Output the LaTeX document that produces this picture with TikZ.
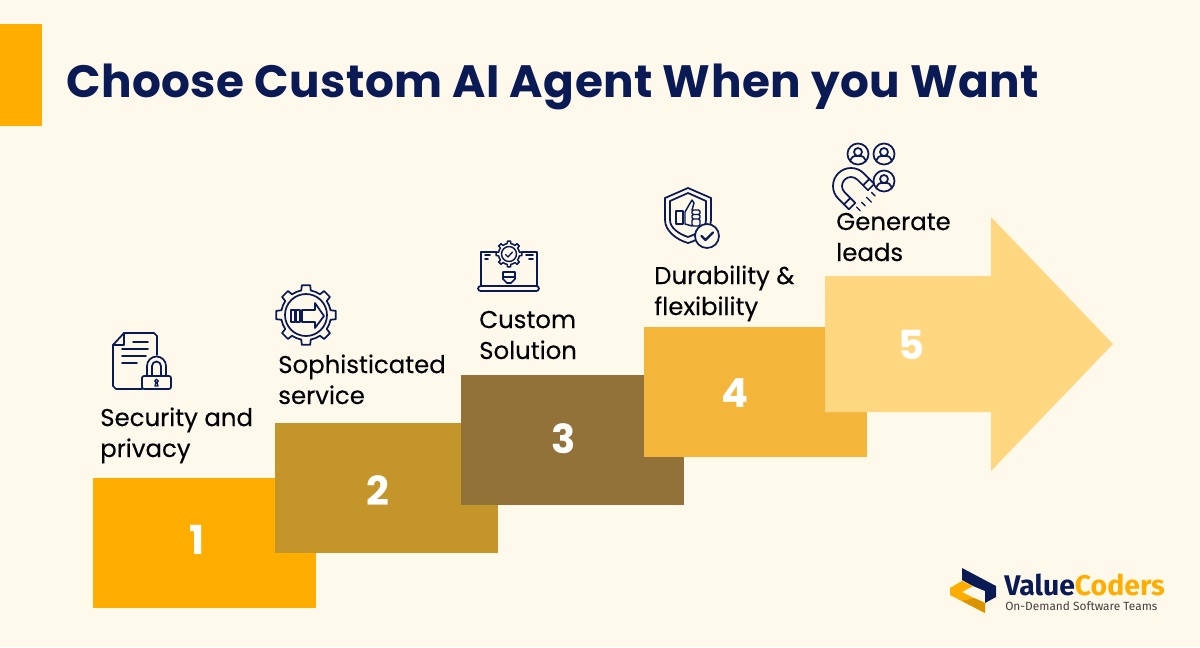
\documentclass[tikz,border=0pt]{standalone}
\usepackage{fontspec}
\setmainfont{Poppins}
\newfontfamily\logofont{Fira Sans}
\newfontfamily\labelfont[FakeBold=0.25]{Poppins}
\definecolor{pagebg}{HTML}{FFF9EC}
\definecolor{navy}{HTML}{0A1A55}
\definecolor{amber}{HTML}{FFAE00}
\definecolor{stepa}{HTML}{FFAE00}
\definecolor{stepb}{HTML}{C4952B}
\definecolor{stepc}{HTML}{927238}
\definecolor{stepd}{HTML}{F4B63A}
\definecolor{stepe}{HTML}{FFD780}
\tikzset{
    label/.style={anchor=base west, inner sep=0pt, align=left, text=black!90!navy, font=\labelfont\fontsize{18.3}{23.2}\selectfont},
    num/.style={text=white, inner sep=0pt, font=\bfseries\fontsize{30}{30}\selectfont},
    icon/.style={draw=navy, line width=1.3pt, line join=round, line cap=round},
}
\begin{document}
\begin{tikzpicture}[x=0.75pt, y=-0.75pt]
    \useasboundingbox (0,0) rectangle (1200,647);
    \fill[pagebg] (0,0) rectangle (1200,647);
    \fill[amber] (0,24) rectangle (42,126);
    \node[anchor=base west, inner sep=0pt, text=navy, font=\bfseries\fontsize{34}{34}\selectfont\addfontfeatures{LetterSpace=1}] (title) at (66,97) {Choose Custom AI Agent When you Want};
    % steps
    \foreach \x/\y/\c in {93/478/stepa, 275/423/stepb, 461/375/stepc, 644/327/stepd}{
        \fill[\c] (\x,\y) rectangle ++(223,130);
    }
    \fill[stepe] (825,276) -- (991,276) -- (991,217) -- (1113,344) -- (991,471) -- (991,412) -- (825,412) -- cycle;
    \node[num] (one) at (197.5,540) {1};
    \node[num] (two) at (378,491) {2};
    \node[num] (three) at (564,439) {3};
    \node[num] (four) at (735,393) {4};
    \node[num] (five) at (911,345) {5};
    \node[label] (security) at (100,457) {Security and\\privacy};
    \node[label] (service) at (278,404) {Sophisticated\\service};
    \node[label] (custom) at (479,359) {Custom\\Solution};
    \node[label] (durable) at (654,315) {Durability \&\\flexibility};
    \node[label] (leads) at (836,261) {Generate\\leads};
    % document and lock
    \draw[icon] (142,389) -- (116,389) -- (113,386) -- (113,345) -- (124,333) -- (154,333) -- (157,336) -- (157,355);
    \draw[icon] (113,345) -- (124,345) -- (124,333);
    \draw[icon] (133,342) -- (148,342) (122,349) -- (148,349) (122,356) -- (146,356) (122,363) -- (137,363);
    \draw[icon, rounded corners=1.5] (142,376) rectangle (171,389);
    \draw[icon] (147,376) -- (147,366) arc (180:360:9.5) -- (166,376);
    \draw[icon] (152,376) -- (152,366) arc (180:360:4.5) -- (161,376);
    \draw[icon, line width=1pt] (156.5,381) circle (1.8) (155,386) -- (158,386) -- (157,382) -- (156,382) -- cycle;
    % gear with arrow
    \foreach \a in {0,45,...,315}{
        \draw[icon] ([shift={(306,315)}]\a-22.5:25) -- ([shift={(306,315)}]\a-11:25) -- ([shift={(306,315)}]\a-8:30) -- ([shift={(306,315)}]\a+8:30) -- ([shift={(306,315)}]\a+11:25) -- ([shift={(306,315)}]\a+22.5:25);
    }
    \draw[icon] (306,315) circle (21);
    \draw[icon, line width=1pt] (291,310) rectangle (295,322) (296,310) rectangle (300,322);
    \draw[icon] (302,310) -- (315,310) -- (315,303) -- (324,316) -- (315,328) -- (315,322) -- (302,322) -- cycle;
    % laptop with gear
    \draw[icon] (481,286) -- (481,252) -- (537,252) -- (537,286);
    \draw[icon, rounded corners=2] (478,286) rectangle (539,291);
    \draw[icon] (485,255) -- (490,255) (485,259) -- (488,259) (526,255) -- (533,255) (529,259) -- (533,259);
    \fill[pagebg] (509,254) circle (12);
    \foreach \a in {0,45,...,315}{
        \draw[icon, line width=1.1pt] ([shift={(509,254)}]\a-22.5:10.5) -- ([shift={(509,254)}]\a-10:10.5) -- ([shift={(509,254)}]\a-7:13) -- ([shift={(509,254)}]\a+7:13) -- ([shift={(509,254)}]\a+10:10.5) -- ([shift={(509,254)}]\a+22.5:10.5);
    }
    \draw[icon, line width=1.1pt] (509,254) circle (7.5);
    \draw[icon, line width=1pt] (505.5,254.5) -- (508,257) -- (512.5,252);
    \draw[icon] (503,272) -- (515,272) -- (515,279) -- (511,283) -- (507,283) -- (503,279) -- cycle (503,277) -- (515,277);
    % shield with thumb
    \draw[icon] (688,188) -- (711,198) -- (711,220) .. controls (711,231) and (699,240) .. (688,243) .. controls (677,240) and (665,231) .. (665,220) -- (665,198) -- cycle;
    \draw[icon] (688,193) -- (706,201) -- (706,220) .. controls (706,228) and (697,234) .. (688,237) .. controls (679,234) and (670,228) .. (670,220) -- (670,201) -- cycle;
    \draw[icon, line width=1.1pt] (676,211) rectangle (683,224);
    \draw[icon, line width=1.1pt] (685,224) -- (685,212) -- (689,205) -- (692,200) -- (694,203) -- (692,210) (685,224) -- (692,226);
    \draw[icon, line width=1.1pt, rounded corners=1] (692,210) rectangle (700,214.5) (692,214.5) rectangle (700,219) (692,219) rectangle (700,226);
    \filldraw[icon, fill=pagebg] (707,236) circle (12);
    \draw[icon, line width=1.8pt] (701.5,236) -- (705.5,240) -- (713,232.5);
    % magnet and people
    \foreach \x/\y in {858/154, 884/154, 884/181}{
        \draw[icon] (\x,\y) circle (10.5);
        \draw[icon] (\x,\y-2) circle (4);
        \draw[icon] (\x-7.5,\y+7.5) -- (\x-7.5,\y+6) .. controls (\x-7,\y+3) and (\x-4,\y+2) .. (\x-3,\y+2) -- (\x+3,\y+2) .. controls (\x+4,\y+2) and (\x+7,\y+3) .. (\x+7.5,\y+6) -- (\x+7.5,\y+7.5);
    }
    \begin{scope}[shift={(851,186)}, rotate=-45]
        \draw[icon] (15,-18) -- (0,-18) arc (270:90:18) -- (15,18) -- (15,9) -- (0,9) arc (90:270:9) -- (15,-9) -- cycle;
        \draw[icon] (8,-18) -- (8,-9) (8,18) -- (8,9);
        \draw[icon, line width=1pt] (19,-10) -- (24,-10) (19,-3) -- (26,-3) (19,4) -- (24,4) (19,11) -- (24,11);
    \end{scope}
    % logo
    \fill[navy] (962,568) -- (996,586) -- (996,597) -- (985,603) -- (985,591) -- (973,586) -- (962,580) -- cycle;
    \fill[amber] (950,588) -- (962,581) -- (973,586) -- (962,592) -- (974,598) -- (985,603) -- (985,613) -- (950,595) -- cycle;
    \fill[amber!85!black] (962,601) -- (974,598) -- (985,603) -- (985,613) -- cycle;
    \node[anchor=base west, inner sep=0pt, text=navy, font=\logofont\bfseries\fontsize{21.3}{21.3}\selectfont] (logoname) at (1004,595) {Value\textcolor{amber}{Coders}};
    \node[anchor=base west, inner sep=0pt, text=black!75, font=\logofont\fontsize{8.9}{10}\selectfont] (logotag) at (1005,610) {On-Demand Software Teams};
\end{tikzpicture}
\end{document}
